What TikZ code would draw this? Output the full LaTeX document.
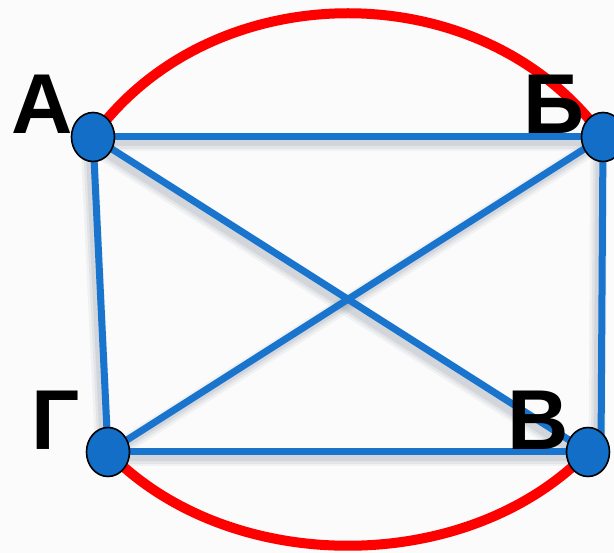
\documentclass[tikz,border=0pt]{standalone}
\usepackage{fontspec}
\setmainfont{Liberation Sans}
\usetikzlibrary{shapes.geometric}
\definecolor{bluefill}{RGB}{18,110,198}
\definecolor{blueline}{RGB}{24,116,204}
\definecolor{bg}{RGB}{251,251,251}
\definecolor{shadowc}{RGB}{120,130,145}
\tikzset{
  vertex/.style={ellipse, draw=black, line width=1.6pt, fill=bluefill,
    minimum width=43pt, minimum height=49pt, inner sep=0pt},
  lbl/.style={anchor=base, inner sep=0pt, font=\fontsize{85}{85}\selectfont\bfseries},
  edge/.style={draw=blueline, line width=7pt},
  shadowa/.style={draw=shadowc, line width=17pt, opacity=0.08},
  shadowb/.style={draw=shadowc, line width=12pt, opacity=0.11},
  shadowc/.style={draw=shadowc, line width=7pt, opacity=0.15},
  redarc/.style={draw=red, line width=10pt}
}
\begin{document}
\begin{tikzpicture}[x=1pt, y=-1pt]
  \fill[bg] (0,0) rectangle (614,553);
  \useasboundingbox (0,0) rectangle (614,553);
  % node positions
  \coordinate (pA) at (93,137);
  \coordinate (pB) at (603,137);
  \coordinate (pV) at (588,452);
  \coordinate (pG) at (108,452);
  \coordinate (pVr) at (601,452);
  % red arcs
  \draw[redarc] (pA) .. controls (212,-28) and (484,-28) .. (pB);
  \draw[redarc] (pG) .. controls (229,577) and (467,577) .. (pV);
  % shadows
  \foreach \s in {shadowa,shadowb,shadowc}{
    \begin{scope}[transform canvas={shift={(-4pt,-6pt)}}]
      \draw[\s] (pA) -- (pB);
      \draw[\s] (pA) -- (pG);
      \draw[\s] (pA) -- (pV);
      \draw[\s] (pB) -- (pG);
      \draw[\s] (pB) -- (pVr);
      \draw[\s] (pG) -- (pV);
    \end{scope}
  }
  % blue edges
  \draw[edge] (pA) -- (pB);
  \draw[edge] (pA) -- (pG);
  \draw[edge] (pA) -- (pV);
  \draw[edge] (pB) -- (pG);
  \draw[edge] (pB) -- (pVr);
  \draw[edge] (pG) -- (pV);
  % vertices
  \node[vertex] (A) at (pA) {};
  \node[vertex] (B) at (pB) {};
  \node[vertex] (V) at (pV) {};
  \node[vertex] (G) at (pG) {};
  % labels
  \node[lbl] (lA) at (42,134) {А};
  \node[lbl] (lB) at (554,134) {Б};
  \node[lbl] (lV) at (538,450) {В};
  \node[lbl] (lG) at (56,450) {Г};
\end{tikzpicture}
\end{document}
